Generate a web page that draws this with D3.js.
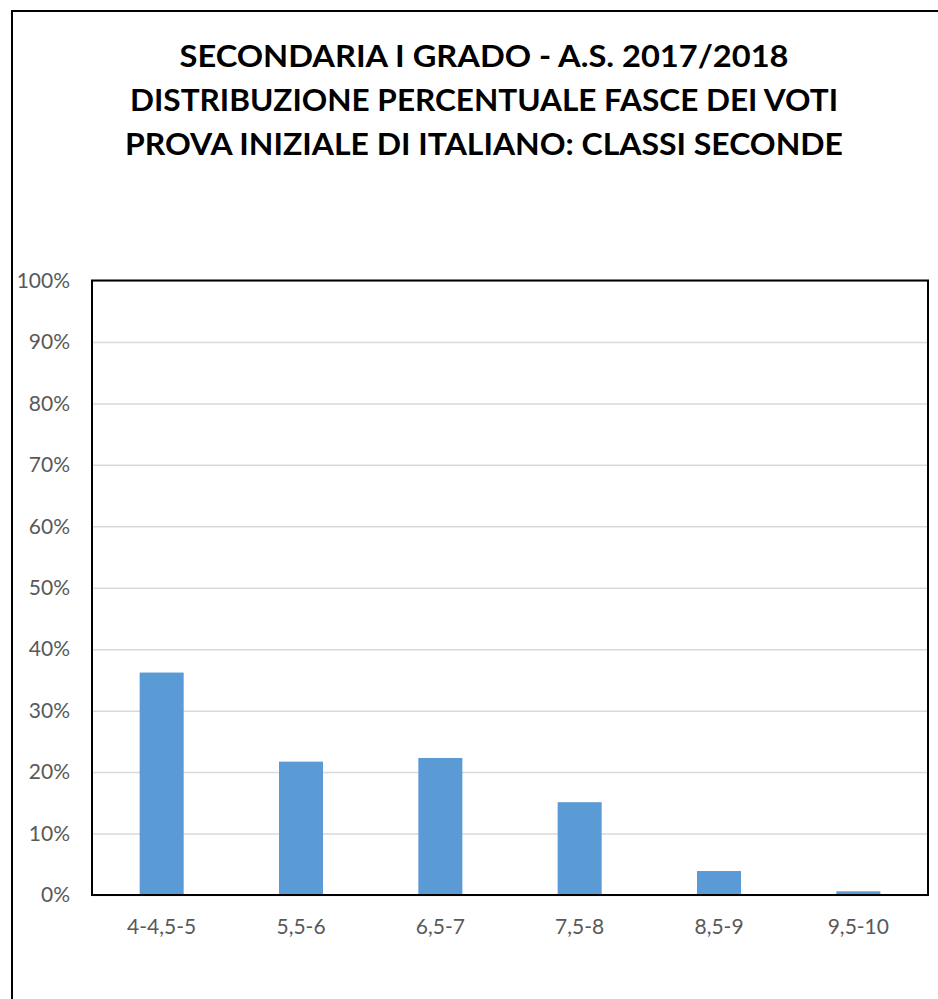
<!DOCTYPE html>
<html>
<head>
<meta charset="utf-8">
<script src="https://cdn.jsdelivr.net/npm/d3@7"></script>
<style>
  html, body { margin: 0; padding: 0; background: #fff; }
  svg { display: block; }
</style>
</head>
<body>
<div id="chart"></div>
<script>
const titleLines = [
  "SECONDARIA I GRADO - A.S. 2017/2018",
  "DISTRIBUZIONE PERCENTUALE FASCE DEI VOTI",
  "PROVA INIZIALE DI ITALIANO: CLASSI SECONDE"
];
const categories = ["4-4,5-5", "5,5-6", "6,5-7", "7,5-8", "8,5-9", "9,5-10"];
const values = [0.362, 0.217, 0.223, 0.151, 0.039, 0.006];
const yTicks = [0, 0.1, 0.2, 0.3, 0.4, 0.5, 0.6, 0.7, 0.8, 0.9, 1.0];

const W = 938, H = 999;
const plot = { left: 92, top: 280.5, right: 928, bottom: 895 };

const svg = d3.select("#chart").append("svg")
  .attr("width", W).attr("height", H);

svg.append("rect").attr("width", W).attr("height", H).attr("fill", "#fff");

// outer chart border
svg.append("rect")
  .attr("x", 12).attr("y", 11)
  .attr("width", 960).attr("height", 1020)
  .attr("fill", "none").attr("stroke", "#000").attr("stroke-width", 2);

// title
const titleWidths = [609, 708, 718];
const titleBaselines = [67, 111, 155];
svg.append("g").selectAll("text").data(titleLines).join("text")
  .attr("x", 484)
  .attr("y", (d, i) => titleBaselines[i])
  .attr("text-anchor", "middle")
  .attr("textLength", (d, i) => titleWidths[i])
  .attr("lengthAdjust", "spacingAndGlyphs")
  .style("font-family", "Lato, 'Open Sans', sans-serif")
  .style("font-weight", "bold")
  .style("font-size", "31px")
  .attr("fill", "#000")
  .text(d => d);

const x = d3.scaleBand().domain(categories)
  .range([plot.left, plot.right]).paddingInner(0.684).paddingOuter(0.342);
const y = d3.scaleLinear().domain([0, 1]).range([plot.bottom, plot.top]);

// gridlines
svg.append("g")
  .attr("transform", `translate(${plot.left},0)`)
  .call(d3.axisLeft(y).tickValues(yTicks).tickSize(-(plot.right - plot.left)).tickFormat(""))
  .call(g => g.select(".domain").remove())
  .call(g => g.selectAll("line").attr("stroke", "#d9d9d9").attr("stroke-width", 1.5));

// y labels
svg.append("g")
  .attr("transform", `translate(${plot.left},0)`)
  .call(d3.axisLeft(y).tickValues(yTicks).tickSize(0).tickPadding(22).tickFormat(d3.format(".0%")))
  .call(g => g.select(".domain").remove())
  .call(g => g.selectAll("text")
    .attr("fill", "#595959")
    .style("font-family", "Lato, 'Open Sans', sans-serif")
    .style("font-size", "21px"));

// bars
svg.append("g").selectAll("rect").data(values).join("rect")
  .attr("x", (d, i) => x(categories[i]))
  .attr("y", d => y(d))
  .attr("width", x.bandwidth())
  .attr("height", d => y(0) - y(d))
  .attr("fill", "#5b9bd5");

// plot border
svg.append("rect")
  .attr("x", plot.left).attr("y", plot.top)
  .attr("width", plot.right - plot.left).attr("height", plot.bottom - plot.top)
  .attr("fill", "none").attr("stroke", "#000").attr("stroke-width", 2);

// x labels
svg.append("g")
  .attr("transform", `translate(0,${plot.bottom})`)
  .call(d3.axisBottom(x).tickSize(0).tickPadding(24))
  .call(g => g.select(".domain").remove())
  .call(g => g.selectAll("text")
    .attr("fill", "#595959")
    .style("font-family", "Lato, 'Open Sans', sans-serif")
    .style("font-size", "21px"));
</script>
</body>
</html>
